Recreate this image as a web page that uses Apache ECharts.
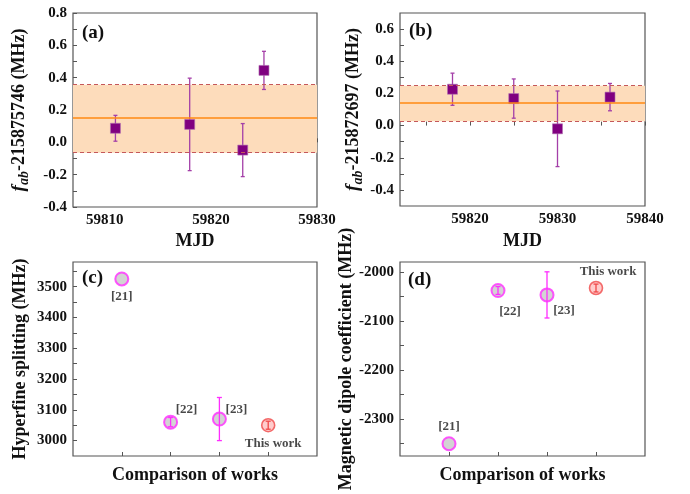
<!DOCTYPE html>
<html><head><meta charset="utf-8">
<script src="https://cdn.jsdelivr.net/npm/echarts@6/dist/echarts.min.js"></script>
<style>html,body{margin:0;padding:0;background:#fff}#c{width:690px;height:494px}</style>
</head><body><div id="c"></div>
<script>
// ---------- data ----------
const mjdA = [59811, 59818, 59823, 59825];
const valA = [0.087, 0.111, -0.048, 0.445];
const errA = [0.080, 0.286, 0.164, 0.118];
const bandA = [-0.064, 0.147, 0.356];          // lower, mean, upper

const mjdB = [59818, 59825, 59830, 59836];
const valB = [0.226, 0.168, -0.020, 0.177];
const errB = [0.100, 0.122, 0.235, 0.085];
const bandB = [0.027, 0.137, 0.247];

const works = ['[21]', '[22]', '[23]', 'This work'];
const workPos = [1, 2, 3, 4];
const valC = [3525, 3060, 3070, 3050];
const errC = [0, 15, 70, 13];
const valD = [-2350, -2038, -2047, -2033];
const errD = [0, 8, 47, 8];

const labelsAx = [59810, 59820, 59830];
const ticksAx = [59810, 59815, 59820, 59825, 59830];
const labelsAy = [-0.4, -0.2, 0.0, 0.2, 0.4, 0.6, 0.8];
const ticksAy = [-0.4, -0.3, -0.2, -0.1, 0.0, 0.1, 0.2, 0.3, 0.4, 0.5, 0.6, 0.7, 0.8];
const labelsBx = [59820, 59830, 59840];
const ticksBx = [59815, 59820, 59825, 59830, 59835, 59840];
const labelsBy = [-0.4, -0.2, 0.0, 0.2, 0.4, 0.6];
const ticksBy = [-0.4, -0.3, -0.2, -0.1, 0.0, 0.1, 0.2, 0.3, 0.4, 0.5, 0.6];
const labelsCy = [3000, 3100, 3200, 3300, 3400, 3500];
const ticksCy = [3000, 3050, 3100, 3150, 3200, 3250, 3300, 3350, 3400, 3450, 3500, 3550];
const labelsDy = [-2300, -2200, -2100, -2000];
const ticksDy = [-2350, -2300, -2250, -2200, -2150, -2100, -2050, -2000];

// ---------- styling ----------
const FONT = '"Liberation Serif","Times New Roman",serif';
const TXT = '#111';
const FRAME = '#555';

function errBarRender(colorFn, capW, lw) {
  return function (params, api) {
    const x = api.value(0), y = api.value(1), e = api.value(2);
    if (!e) return null;
    const t = api.coord([x, y + e]), b = api.coord([x, y - e]);
    const st = { stroke: colorFn(params.dataIndex), lineWidth: lw };
    return { type: 'group', children: [
      { type: 'line', shape: { x1: t[0], y1: t[1], x2: b[0], y2: b[1] }, style: st },
      { type: 'line', shape: { x1: t[0] - capW, y1: t[1], x2: t[0] + capW, y2: t[1] }, style: st },
      { type: 'line', shape: { x1: b[0] - capW, y1: b[1], x2: b[0] + capW, y2: b[1] }, style: st }
    ]};
  };
}

const fInt = v => String(Math.round(v));
const f1 = v => Number(v).toFixed(1);

function xAxisCfg(gi, min, max, labels, ticks, name, gap, showLabels) {
  return {
    gridIndex: gi, type: 'value', min: min, max: max,
    axisLine: { show: false },
    axisTick: { show: true, inside: true, length: 4, customValues: ticks, lineStyle: { color: FRAME } },
    axisLabel: { show: showLabels, customValues: labels, formatter: fInt, fontFamily: FONT, fontWeight: 'bold', fontSize: 15, color: TXT, margin: 6 },
    splitLine: { show: false },
    name: name, nameLocation: 'middle', nameGap: gap,
    nameTextStyle: { fontFamily: FONT, fontWeight: 'bold', fontSize: 18, color: TXT }
  };
}
function yAxisCfg(gi, min, max, labels, ticks, name, gap, fmt, rich) {
  return {
    gridIndex: gi, type: 'value', min: min, max: max,
    axisLine: { show: false },
    axisTick: { show: true, inside: true, length: 4, customValues: ticks, lineStyle: { color: FRAME } },
    axisLabel: { customValues: labels, formatter: fmt, fontFamily: FONT, fontWeight: 'bold', fontSize: 15, color: TXT, margin: 6 },
    splitLine: { show: false },
    name: name, nameLocation: 'middle', nameGap: gap,
    nameTextStyle: Object.assign({ fontFamily: FONT, fontWeight: 'bold', fontSize: 18, color: TXT }, rich ? { rich: rich } : {})
  };
}
const richF = {
  i: { fontFamily: FONT, fontStyle: 'italic', fontWeight: 'bold', fontSize: 19, color: TXT },
  s: { fontFamily: FONT, fontStyle: 'italic', fontWeight: 'bold', fontSize: 14, color: TXT, padding: [9, 0, 0, 0] },
  n: { fontFamily: FONT, fontWeight: 'bold', fontSize: 18, color: TXT }
};

function bandSeries(xi, band) {
  return {
    type: 'line', xAxisIndex: xi, yAxisIndex: xi, data: [], silent: true,
    markArea: { silent: true, itemStyle: { color: '#fddcbb' }, data: [[{ yAxis: band[0] }, { yAxis: band[2] }]] },
    markLine: { silent: true, symbol: 'none', label: { show: false }, data: [
      { yAxis: band[1], lineStyle: { color: '#ff8a12', type: 'solid', width: 1.5 } },
      { yAxis: band[0], lineStyle: { color: '#c5585a', type: [4, 3], width: 1 } },
      { yAxis: band[2], lineStyle: { color: '#c5585a', type: [4, 3], width: 1 } }
    ]}
  };
}
function measSeries(xi, xs, vs, es) {
  return [
    { type: 'custom', xAxisIndex: xi, yAxisIndex: xi, z: 3,
      renderItem: errBarRender(() => '#a43fa8', 2, 1.3),
      encode: { x: 0, y: 1 },
      data: xs.map((x, i) => [x, vs[i], es[i]]) },
    { type: 'scatter', xAxisIndex: xi, yAxisIndex: xi, z: 4, symbol: 'rect', symbolSize: 10,
      itemStyle: { color: '#800080', borderColor: '#b070b0', borderWidth: 0.6, opacity: 1 },
      data: xs.map((x, i) => [x, vs[i]]) }
  ];
}
const magenta = '#ff2dff', redc = '#f04848';
const ebColor = i => (i === 3 ? redc : magenta);
function compSeries(xi, vs, es, labelOffsets) {
  return [
    { type: 'scatter', xAxisIndex: xi, yAxisIndex: xi, z: 3, symbol: 'circle', symbolSize: 13,
      data: workPos.map((x, i) => ({
        value: [x, vs[i]],
        itemStyle: i === 3
          ? { color: 'rgba(255,170,170,0.75)', borderColor: redc, borderWidth: 1.6 }
          : { color: 'rgba(190,190,190,0.85)', borderColor: magenta, borderWidth: 2 },
        label: { show: true, formatter: works[i], position: 'inside', offset: labelOffsets[i],
          fontFamily: FONT, fontWeight: 'bold', fontSize: 13, color: '#1a1a1a',
          textBorderWidth: 0, textBorderColor: 'transparent' }
      })) },
    { type: 'custom', xAxisIndex: xi, yAxisIndex: xi, z: 4,
      renderItem: errBarRender(ebColor, 2.5, 1.3),
      encode: { x: 0, y: 1 },
      data: workPos.map((x, i) => [x, vs[i], es[i]]) }
  ];
}

const grids = [
  { left: 73, top: 13, width: 244, height: 194 },
  { left: 400, top: 13, width: 245, height: 193 },
  { left: 73, top: 262, width: 244, height: 194 },
  { left: 400, top: 262, width: 245, height: 194 }
].map(g => Object.assign({ show: true, borderColor: FRAME, borderWidth: 1.2, backgroundColor: 'transparent' }, g));

const option = {
  animation: false,
  backgroundColor: '#fff',
  grid: grids,
  xAxis: [
    xAxisCfg(0, 59807, 59830, labelsAx, ticksAx, 'MJD', 25, true),
    xAxisCfg(1, 59812, 59840, labelsBx, ticksBx, 'MJD', 26, true),
    xAxisCfg(2, 0, 5, [], workPos, 'Comparison of works', 10, false),
    xAxisCfg(3, 0, 5, [], workPos, 'Comparison of works', 10, false)
  ],
  yAxis: [
    yAxisCfg(0, -0.4, 0.8, labelsAy, ticksAy, '{i|f}{s|ab}{n|-215875746 (MHz)}', 42, f1, richF),
    yAxisCfg(1, -0.5, 0.7, labelsBy, ticksBy, '{i|f}{s|ab}{n|-215872697 (MHz)}', 35, f1, richF),
    yAxisCfg(2, 2950, 3580, labelsCy, ticksCy, 'Hyperfine splitting (MHz)', 44, fInt),
    yAxisCfg(3, -2375, -1980, labelsDy, ticksDy, 'Magnetic dipole coefficient (MHz)', 31, fInt)
  ],
  graphic: [
    { type: 'text', left: 82, top: 24, style: { text: '(a)', font: 'bold 19px ' + FONT, fill: TXT } },
    { type: 'text', left: 409, top: 22, style: { text: '(b)', font: 'bold 19px ' + FONT, fill: TXT } },
    { type: 'text', left: 82, top: 269, style: { text: '(c)', font: 'bold 19px ' + FONT, fill: TXT } },
    { type: 'text', left: 408, top: 271, style: { text: '(d)', font: 'bold 19px ' + FONT, fill: TXT } }
  ],
  series: [
    bandSeries(0, bandA),
    ...measSeries(0, mjdA, valA, errA),
    bandSeries(1, bandB),
    ...measSeries(1, mjdB, valB, errB),
    ...compSeries(2, valC, errC, [[0, 18], [16, -12], [17, -9], [5, 18]]),
    ...compSeries(3, valD, errD, [[0, -17], [12, 21], [17, 16], [12, -16]])
  ]
};
const chart = echarts.init(document.getElementById('c'), null, { renderer: 'canvas' });
chart.setOption(option);
</script>
</body></html>
